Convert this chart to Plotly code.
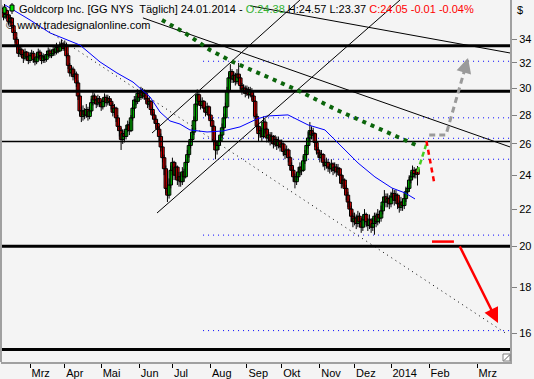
import math
import plotly.graph_objects as go

# ---------------- data ----------------
first_bar = -17  # bar index; 0 = first weekday of March 2013
closes = [36.4, 36.0, 36.6, 36.2, 35.6, 35.9, 35.2, 34.6, 34.0, 33.4, 32.8, 33.1, 32.7, 32.4, 32.9, 32.5, 32.2,
          32.6, 32.8, 32.3, 32.1, 32.5, 32.9, 32.6, 32.2, 32.5, 32.3, 32.7, 33.0, 32.6, 32.8, 33.1, 32.9, 33.3,
          33.0, 33.4, 33.6, 33.2, 33.5, 32.6, 31.8, 31.2, 31.5, 30.9, 31.1, 30.4, 29.4, 28.3, 27.9, 28.3, 28.0,
          28.4, 27.9, 28.3, 28.9, 29.4, 29.1, 28.8, 29.2, 28.9, 28.6, 29.0, 29.3, 28.9, 29.2, 29.0, 28.7, 28.2,
          28.5, 27.8, 27.2, 26.9, 26.3, 26.7, 26.5, 27.0, 27.3, 26.9, 27.8, 28.5, 29.1, 29.0, 29.6, 29.3, 29.8,
          29.4, 29.6, 29.2, 28.8, 29.0, 28.4, 28.0, 27.7, 27.4, 27.0, 26.5, 25.8, 25.1, 24.4, 23.2, 22.8, 23.4,
          24.3, 24.8, 24.0, 24.5, 23.7, 23.9, 23.6, 24.2, 23.9, 24.8, 25.3, 25.9, 26.3, 26.8, 27.6, 28.8, 29.5,
          29.0, 28.7, 29.0, 28.5, 28.2, 28.6, 28.0, 27.6, 27.2, 26.2, 25.6, 25.9, 26.2, 26.6, 27.1, 27.8, 28.6,
          29.8, 30.8, 31.3, 30.7, 31.0, 30.5, 31.1, 30.8, 30.2, 29.8, 30.0, 29.6, 29.9, 29.5, 29.8, 29.4, 29.0,
          27.9, 27.2, 26.7, 26.9, 26.5, 27.5, 27.0, 26.4, 26.6, 26.2, 26.5, 26.0, 26.3, 25.9, 26.2, 25.8, 26.0,
          25.5, 25.3, 25.6, 25.1, 24.6, 24.3, 23.9, 23.6, 23.9, 24.2, 24.5, 24.3, 24.9, 25.3, 25.9, 26.4, 26.9,
          26.6, 26.7, 26.1, 25.6, 25.4, 25.1, 25.3, 24.8, 24.6, 24.8, 24.5, 24.4, 24.7, 24.3, 24.5, 24.2, 24.4,
          24.0, 23.5, 23.7, 23.2, 22.8, 22.4, 22.0, 21.6, 21.3, 21.5, 21.2, 21.6, 21.3, 21.0, 21.4, 21.7, 21.3,
          21.1, 21.4, 21.0, 21.2, 21.6, 21.3, 21.7, 21.5, 21.9, 22.4, 22.7, 22.4, 22.6, 22.3, 22.7, 22.9, 22.5,
          22.8, 22.3, 22.1, 22.4, 22.2, 22.6, 23.0, 23.2, 23.7, 23.9, 24.3, 24.1, 24.06, 24.05]
opens = [36.8, 36.4, 36.0, 36.6, 36.2, 35.6, 35.9, 35.2, 34.6, 34.0, 33.4, 32.8, 33.1, 32.7, 32.4, 32.9, 32.5,
         32.2, 32.6, 32.8, 32.3, 32.1, 32.5, 32.9, 32.6, 32.2, 32.5, 32.3, 32.7, 33.0, 32.6, 32.8, 33.1, 32.9,
         33.3, 33.0, 33.4, 33.6, 33.2, 33.5, 32.6, 31.8, 31.2, 31.5, 30.9, 31.1, 30.4, 29.4, 28.3, 27.9, 28.3,
         28.0, 28.4, 27.9, 28.3, 28.9, 29.4, 29.1, 28.8, 29.2, 28.9, 28.6, 29.0, 29.3, 28.9, 29.2, 29.0, 28.7,
         28.2, 28.5, 27.8, 27.2, 26.9, 26.3, 26.7, 26.5, 27.0, 27.3, 26.9, 27.8, 28.5, 29.1, 29.0, 29.6, 29.3,
         29.8, 29.4, 29.6, 29.2, 28.8, 29.0, 28.4, 28.0, 27.7, 27.4, 27.0, 26.5, 25.8, 25.1, 24.4, 23.2, 22.8,
         23.4, 24.3, 24.8, 24.0, 24.5, 23.7, 23.9, 23.6, 24.2, 23.9, 24.8, 25.3, 25.9, 26.3, 26.8, 27.6, 28.8,
         29.5, 29.0, 28.7, 29.0, 28.5, 28.2, 28.6, 28.0, 27.6, 27.2, 26.2, 25.6, 25.9, 26.2, 26.6, 27.1, 27.8,
         28.6, 29.8, 30.8, 31.3, 30.7, 31.0, 30.5, 31.1, 30.8, 30.2, 29.8, 30.0, 29.6, 29.9, 29.5, 29.8, 29.4,
         29.0, 27.9, 27.2, 26.7, 26.9, 26.5, 27.5, 27.0, 26.4, 26.6, 26.2, 26.5, 26.0, 26.3, 25.9, 26.2, 25.8,
         26.0, 25.5, 25.3, 25.6, 25.1, 24.6, 24.3, 23.9, 23.6, 23.9, 24.2, 24.5, 24.3, 24.9, 25.3, 25.9, 26.4,
         26.9, 26.6, 26.7, 26.1, 25.6, 25.4, 25.1, 25.3, 24.8, 24.6, 24.8, 24.5, 24.4, 24.7, 24.3, 24.5, 24.2,
         24.4, 24.0, 23.5, 23.7, 23.2, 22.8, 22.4, 22.0, 21.6, 21.3, 21.5, 21.2, 21.6, 21.3, 21.0, 21.4, 21.7,
         21.3, 21.1, 21.4, 21.0, 21.2, 21.6, 21.3, 21.7, 21.5, 21.9, 22.4, 22.7, 22.4, 22.6, 22.3, 22.7, 22.9,
         22.5, 22.8, 22.3, 22.1, 22.4, 22.2, 22.6, 23.0, 23.2, 23.7, 23.9, 24.3, 24.1, 24.38]
highs = [37.1, 36.7, 36.9, 36.8, 36.4, 36.2, 36.0, 35.4, 34.8, 34.2, 33.6, 33.4, 33.3, 32.9, 33.2, 33.0, 32.7,
         32.9, 33.1, 33.0, 32.5, 32.8, 33.2, 33.1, 32.8, 32.8, 32.7, 33.0, 33.3, 33.2, 33.1, 33.4, 33.3, 33.7,
         33.5, 33.8, 34.0, 33.8, 33.9, 33.7, 32.8, 32.0, 31.8, 31.7, 31.4, 31.3, 30.6, 29.6, 28.6, 28.7, 28.5,
         28.8, 28.6, 28.6, 29.2, 29.8, 29.6, 29.3, 29.5, 29.4, 29.1, 29.3, 29.6, 29.5, 29.5, 29.4, 29.2, 28.9,
         28.8, 28.6, 28.0, 27.4, 27.1, 27.0, 26.9, 27.3, 27.6, 27.5, 28.0, 28.8, 29.4, 29.4, 29.9, 29.8, 30.1,
         30.0, 29.9, 29.8, 29.4, 29.3, 29.1, 28.6, 28.2, 27.9, 27.6, 27.2, 26.7, 26.0, 25.3, 24.6, 23.6, 23.8,
         24.6, 25.1, 24.9, 24.8, 24.6, 24.2, 24.1, 24.5, 24.4, 25.0, 25.6, 26.2, 26.6, 27.1, 27.9, 29.1, 29.9,
         29.7, 29.2, 29.3, 29.1, 28.7, 28.9, 28.7, 28.2, 27.8, 27.3, 26.4, 26.2, 26.5, 26.9, 27.4, 28.1, 28.9,
         30.1, 31.2, 31.9, 31.5, 31.3, 31.2, 31.5, 32.0, 31.0, 30.4, 30.3, 30.2, 30.2, 30.1, 30.1, 30.0, 29.6,
         29.1, 28.1, 27.4, 27.2, 27.1, 27.9, 27.7, 27.1, 26.9, 26.8, 26.8, 26.6, 26.6, 26.5, 26.5, 26.3, 26.3,
         26.1, 25.7, 25.9, 25.7, 25.2, 24.8, 24.5, 24.1, 24.2, 24.5, 24.8, 24.7, 25.2, 25.6, 26.2, 26.8, 27.5,
         27.2, 27.1, 26.8, 26.2, 25.8, 25.6, 25.6, 25.4, 25.0, 25.1, 25.0, 24.7, 25.0, 24.8, 24.8, 24.7, 24.7,
         24.5, 24.1, 24.0, 23.8, 23.4, 23.0, 22.6, 22.2, 21.8, 21.8, 21.7, 21.9, 21.8, 21.5, 21.7, 22.0, 21.8,
         21.5, 21.7, 21.5, 21.5, 21.8, 21.8, 22.0, 21.9, 22.2, 22.7, 23.1, 22.9, 22.9, 22.8, 23.0, 23.2, 23.1,
         23.1, 22.9, 22.5, 22.7, 22.6, 22.9, 23.3, 23.5, 24.0, 24.2, 24.6, 24.5, 24.4, 24.57]
lows = [36.1, 35.7, 35.8, 35.9, 35.3, 35.4, 35.0, 34.3, 33.7, 33.1, 32.5, 32.5, 32.4, 32.0, 32.2, 32.2, 31.9,
        32.0, 32.4, 32.0, 31.8, 31.9, 32.3, 32.3, 31.9, 32.0, 32.0, 32.1, 32.5, 32.4, 32.4, 32.6, 32.6, 32.7,
        32.8, 32.9, 33.2, 33.0, 33.0, 32.4, 31.5, 30.9, 31.0, 30.6, 30.7, 30.1, 29.1, 28.0, 27.5, 27.6, 27.7,
        27.8, 27.6, 27.7, 28.1, 28.7, 28.8, 28.5, 28.6, 28.6, 28.3, 28.4, 28.8, 28.6, 28.7, 28.7, 28.4, 27.9,
        28.0, 27.5, 26.9, 26.5, 25.6, 26.0, 26.1, 26.3, 26.8, 26.6, 26.8, 27.6, 28.3, 28.7, 28.8, 29.0, 29.1,
        29.2, 29.1, 28.9, 28.5, 28.6, 28.1, 27.7, 27.4, 27.1, 26.7, 26.2, 25.5, 24.8, 24.0, 22.9, 22.4, 22.6,
        23.2, 24.0, 23.7, 23.8, 23.4, 23.3, 23.3, 23.4, 23.6, 23.8, 24.6, 25.1, 25.7, 26.1, 26.6, 27.5, 28.6,
        28.7, 28.4, 28.5, 28.2, 27.9, 28.0, 27.7, 27.3, 26.8, 25.9, 25.0, 25.3, 25.6, 26.0, 26.4, 26.9, 27.6,
        28.5, 29.6, 30.5, 30.4, 30.4, 30.2, 30.3, 30.5, 29.9, 29.5, 29.6, 29.3, 29.4, 29.2, 29.3, 29.1, 28.6,
        27.6, 26.9, 26.2, 26.4, 26.2, 26.4, 26.7, 26.1, 26.1, 25.9, 26.0, 25.7, 25.8, 25.6, 25.7, 25.5, 25.5,
        25.2, 25.0, 25.1, 24.8, 24.3, 24.0, 23.6, 23.2, 23.4, 23.7, 24.0, 24.0, 24.2, 24.7, 25.1, 25.7, 26.2,
        26.3, 26.3, 25.8, 25.3, 25.1, 24.8, 24.9, 24.5, 24.3, 24.4, 24.2, 24.1, 24.2, 24.0, 24.1, 23.9, 24.0,
        23.7, 23.2, 23.3, 22.9, 22.5, 22.1, 21.7, 21.3, 21.0, 21.1, 20.9, 21.0, 21.0, 20.7, 20.8, 21.2, 21.0,
        20.8, 20.9, 20.7, 20.8, 20.6, 21.0, 21.1, 21.2, 21.3, 21.7, 22.2, 22.1, 22.1, 22.0, 22.1, 22.5, 22.2,
        22.3, 22.0, 21.8, 21.9, 21.9, 22.0, 22.4, 22.8, 23.0, 23.5, 23.7, 23.8, 23.8, 23.37]
bars = list(range(first_bar, first_bar + len(closes)))

# moving average (bar index, price)
ma_x = [-15.1, 0.0, 12.1, 30.2, 42.3, 52.5, 62.2, 69.4, 72.5, 78.5, 84.5, 90.6, 96.6, 106.9, 116.6, 126.8,
        137.1, 143.1, 151.0, 155.8, 167.9, 178.1, 188.4, 198.1, 208.3, 218.6, 226.5, 232.5]
ma_y = [37.13, 35.73, 34.56, 33.50, 32.08, 31.19, 30.47, 29.71, 29.33, 28.22, 27.58, 27.36, 26.95, 26.81,
        26.88, 27.16, 27.72, 27.93, 28.01, 28.01, 27.30, 26.95, 25.80, 24.76, 23.89, 23.22, 22.93, 22.58]

# horizontal support / resistance levels
solid_levels = [33.45, 29.76, 20.0, 15.35]
thin_level = 26.17
dotted_levels = [32.14, 27.8, 26.38, 25.0, 20.58, 16.11]
dotted_start = 104.5

# drawn trend lines (bar index, price)
line_a = ([132.9, 289.9], [37.05, 32.83])
line_b = ([68.2, 289.9], [35.92, 25.80])
line_c = ([73.7, 163.0], [26.74, 37.6])
line_d = ([76.7, 223.4], [21.78, 37.6])
line_e = ([9.1, 288.0], [34.92, 15.97])
green_x = [79.7, 93.6, 108.7, 122.6, 140.7, 161.2, 185.4, 213.2, 233.1]
green_y = [35.73, 34.56, 33.08, 32.08, 31.03, 29.86, 28.36, 26.95, 25.93]

# forecast scenario sketches
up_x, up_y = [234.0, 239.2], [24.2, 25.95]
down_x, down_y = [239.4, 244.0], [26.2, 23.58]
grey_x, grey_y = [241.1, 251.2, 264.2], [26.61, 26.61, 32.25]
grey_head = ((263.0, 31.70), (264.5, 32.41))
red_x, red_y = [242.75, 256.0], [20.24, 20.24]
red_arrow = ((259.06, 20.07), (282.6, 16.43))

month_ticks = [0, 21, 43, 66, 86, 109, 131, 152, 175, 196, 218, 241, 270]
month_labels = ["Mrz", "Apr", "Mai", "Jun", "Jul", "Aug", "Sep", "Okt", "Nov", "Dez", "2014", "Feb", "Mrz"]
price_ticks = [16, 18, 20, 22, 24, 26, 28, 30, 32, 34]

# ---------------- figure ----------------
X0, X1 = -17.51, 289.86
FONT = "Liberation Sans, Arial, sans-serif"
fig = go.Figure()


def line(xs, ys, color, width, dash="solid"):
    fig.add_trace(go.Scatter(x=xs, y=ys, mode="lines", hoverinfo="skip",
                             line=dict(color=color, width=width, dash=dash)))


for lv in solid_levels:
    line([X0, X1], [lv, lv], "#000000", 3)
line([X0, X1], [thin_level, thin_level], "#000000", 1.5)
for lv in dotted_levels:
    line([dotted_start, X1], [lv, lv], "#0000ff", 1, "1px,4px")

# candles: wicks (one scatter with gaps) + bodies (bars with base on the log axis), in time order
wick_x, wick_y = [], []
for b, h, l in zip(bars, highs, lows):
    wick_x += [b, b, None]
    wick_y += [l, h, None]
fig.add_trace(go.Scatter(x=wick_x, y=wick_y, mode="lines", hoverinfo="skip",
                         line=dict(color="#000000", width=1)))
body_base, body_len, body_col = [], [], []
for o, c in zip(opens, closes):
    lo, hi = min(o, c), max(o, c)
    body_base.append(lo)
    body_len.append(max(hi - lo, 0.04))
    body_col.append("#00e000" if c > o else "#ff0000")
fig.add_trace(go.Bar(x=bars, y=body_len, base=body_base, width=2.1, hoverinfo="skip",
                     marker=dict(color=body_col, line=dict(color="#000000", width=1))))

line(ma_x, ma_y, "#0000ff", 1)
for ln in (line_a, line_b, line_c, line_d):
    line(ln[0], ln[1], "#000000", 1)
line(line_e[0], line_e[1], "#000000", 1, "1px,4px")
line(green_x, green_y, "#0b650b", 4, "4px,5px")
line(up_x, up_y, "#44cc22", 2.5, "5px,3px")
line(down_x, down_y, "#ff0000", 2.5, "5px,4px")
line(grey_x, grey_y, "#9a9a9a", 3, "6px,4px")
line(red_x, red_y, "#ff0000", 2.5)


def px_x(p):
    return (p - 1) / 509.0


def px_y(p):
    return 1 - p / 362.0


annotations = [
    dict(x=red_arrow[1][0], y=math.log10(red_arrow[1][1]), ax=red_arrow[0][0], ay=math.log10(red_arrow[0][1]),
         xref="x", yref="y", axref="x", ayref="y", showarrow=True, arrowhead=2, arrowsize=1.2,
         arrowwidth=2.5, arrowcolor="#ff0000", text=""),
    dict(x=grey_head[1][0], y=math.log10(grey_head[1][1]), ax=grey_head[0][0], ay=math.log10(grey_head[0][1]),
         xref="x", yref="y", axref="x", ayref="y", showarrow=True, arrowhead=2, arrowsize=1.0,
         arrowwidth=3, arrowcolor="#9a9a9a", text=""),
    dict(x=px_x(17), y=px_y(9), xref="paper", yref="paper", xanchor="left", yanchor="middle", showarrow=False,
         font=dict(family=FONT, size=11, color="#000000"),
         text="Goldcorp Inc. [GG NYS  Täglich] 24.01.2014 - <span style='color:#33b233'>O:24.38</span> "
              "H:24.57 L:23.37 <span style='color:#ff0000'>C:24.05 -0.01 -0.04%</span>"),
    dict(x=px_x(4), y=px_y(25), xref="paper", yref="paper", xanchor="left", yanchor="middle", showarrow=False,
         font=dict(family=FONT, size=11, color="#000000"), text="© www.tradesignalonline.com"),
    dict(x=px_x(515), y=px_y(10), xref="paper", yref="paper", xanchor="left", yanchor="middle", showarrow=False,
         font=dict(family=FONT, size=11, color="#000000"), text="$"),
]

shapes = [
    dict(type="line", xref="paper", yref="paper", x0=0, x1=0, y0=0, y1=1, line=dict(color="#a0a0a0", width=2)),
    dict(type="line", xref="paper", yref="paper", x0=px_x(4.5), x1=px_x(4.5), y0=px_y(4), y1=px_y(15),
         line=dict(color="#000", width=1)),
    dict(type="rect", xref="paper", yref="paper", x0=px_x(3), x1=px_x(6), y0=px_y(7), y1=px_y(13),
         fillcolor="#00e000", line=dict(color="#000", width=1)),
    dict(type="line", xref="paper", yref="paper", x0=px_x(12), x1=px_x(12), y0=px_y(3), y1=px_y(14),
         line=dict(color="#000", width=1)),
    dict(type="rect", xref="paper", yref="paper", x0=px_x(10), x1=px_x(14), y0=px_y(5), y1=px_y(11),
         fillcolor="#00e000", line=dict(color="#000", width=1)),
    dict(type="rect", xref="paper", yref="paper", x0=px_x(503), x1=px_x(510), y0=px_y(361), y1=px_y(354),
         fillcolor="#ffffff", line=dict(color="#808080", width=1)),
    dict(type="line", xref="paper", yref="paper", x0=px_x(504), x1=px_x(509.5), y0=px_y(360.5), y1=px_y(355),
         line=dict(color="#606060", width=1)),
]

fig.update_layout(
    width=534, height=379, margin=dict(l=1, r=24, t=0, b=17),
    paper_bgcolor="#f4f4f4", plot_bgcolor="#f4f4f4", showlegend=False,
    barmode="overlay", annotations=annotations, shapes=shapes,
    font=dict(family=FONT, size=11, color="#000000"),
    xaxis=dict(range=[X0, X1], showgrid=False, zeroline=False,
               tickmode="array", tickvals=month_ticks, ticktext=month_labels, ticks="outside", ticklen=4,
               tickcolor="#000000", tickwidth=1, ticklabelposition="outside right",
               tickfont=dict(family=FONT, size=11, color="#000000"),
               showline=True, linecolor="#a0a0a0", linewidth=2, fixedrange=True),
    yaxis=dict(type="log", range=[1.17214, 1.57526], side="right", showgrid=False, zeroline=False,
               tickmode="array", tickvals=price_ticks, ticktext=[str(v) for v in price_ticks],
               ticks="outside", ticklen=5, tickcolor="#808080", tickwidth=1,
               tickfont=dict(family=FONT, size=11, color="#000000"),
               showline=True, linecolor="#a0a0a0", linewidth=2, fixedrange=True),
)

fig.write_html("out.html", config={"displayModeBar": False},
               post_script="document.body.style.margin='0';document.body.style.background='#f4f4f4';")
